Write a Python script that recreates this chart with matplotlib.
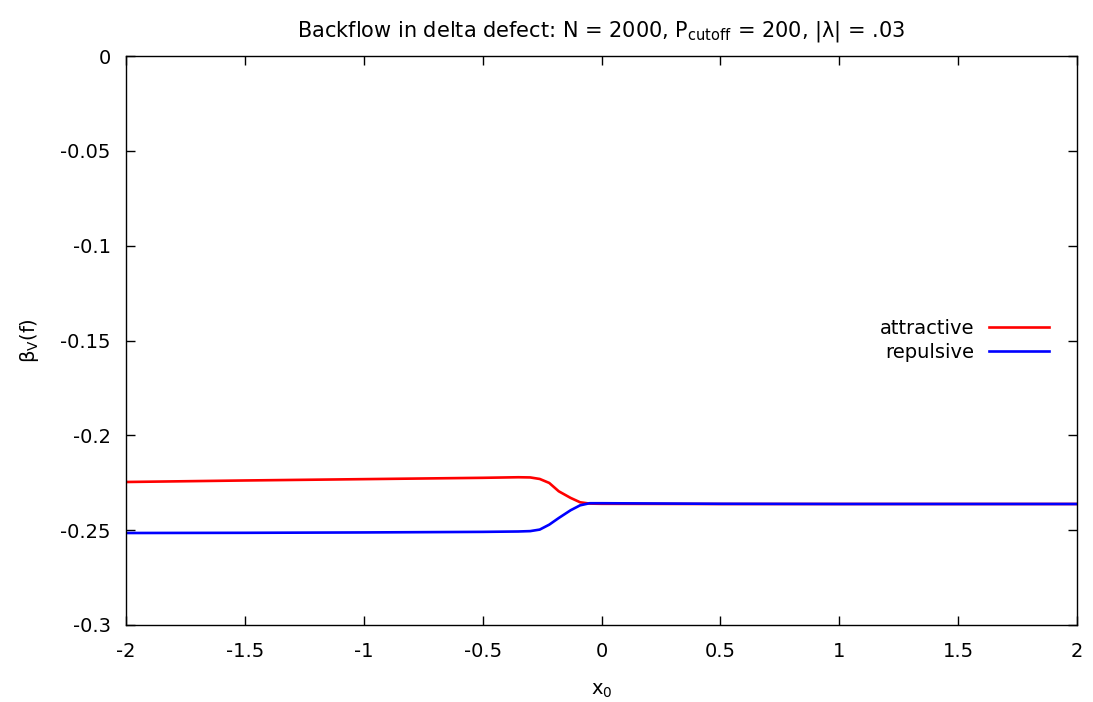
import numpy as np
import matplotlib.pyplot as plt
from matplotlib.ticker import FormatStrFormatter, MultipleLocator

# backflow values vs defect position x0
x0 = [-2.0, -1.5, -1.0, -0.5, -0.35, -0.3, -0.26, -0.22, -0.18, -0.13, -0.09, -0.05, 0.0,
      0.5, 1.0, 1.5, 2.0]
attractive = [-0.2246, -0.2238, -0.2231, -0.2224, -0.2221, -0.2222, -0.2230, -0.2251, -0.2295,
              -0.2330, -0.2353, -0.2360, -0.2361, -0.2362, -0.2362, -0.2362, -0.2362]
repulsive = [-0.2515, -0.2514, -0.2512, -0.2509, -0.2507, -0.2505, -0.2497, -0.2471, -0.2436,
             -0.2395, -0.2369, -0.2358, -0.2358, -0.2361, -0.2362, -0.2362, -0.2362]

plt.rcParams['font.family'] = 'DejaVu Sans'
plt.rcParams['font.size'] = 12.5

fig = plt.figure(figsize=(10.93, 7.02), dpi=100)
ax = fig.add_axes([0.1153, 0.1097, 0.8701, 0.8105])

ax.plot(x0, attractive, color='#ff0000', lw=1.9, label='attractive')
ax.plot(x0, repulsive, color='#0000ff', lw=1.9, label='repulsive')

ax.set_xlim(-2, 2)
ax.set_ylim(-0.3, 0)
ax.xaxis.set_major_locator(MultipleLocator(0.5))
ax.yaxis.set_major_locator(MultipleLocator(0.05))
ax.xaxis.set_major_formatter(FormatStrFormatter('%g'))
ax.yaxis.set_major_formatter(FormatStrFormatter('%g'))
ax.tick_params(direction='in', length=6.5, width=1, top=True, right=True, labelsize=14)
ax.tick_params(axis='x', pad=12)
ax.tick_params(axis='y', pad=11)
for s in ax.spines.values():
    s.set_linewidth(1)

ax.set_xlabel(r'x$_0$', labelpad=15, fontsize=14)
ax.set_ylabel(r'$\mathregular{\beta_V}$(f)', labelpad=14, fontsize=14)
ax.set_title(r'Backflow in delta defect: N = 2000, P$_\mathregular{cutoff}$ = 200, |λ| = .03',
             pad=14)

ax.legend(loc='upper right', bbox_to_anchor=(0.979, 0.551), frameon=False, fontsize=14,
          markerfirst=False, handlelength=3.1, handletextpad=0.75, labelspacing=0.25,
          borderaxespad=0)

fig.savefig('out.png', dpi=100)
plt.close()
